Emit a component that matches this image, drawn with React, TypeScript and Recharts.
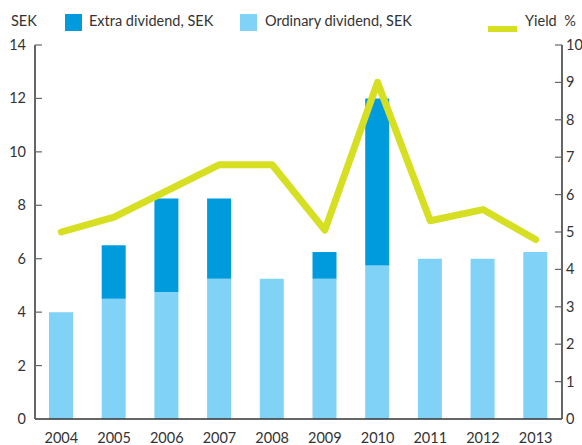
import React from 'react';
import { ComposedChart, Bar, Line, XAxis, YAxis } from 'recharts';

const years = ['2004', '2005', '2006', '2007', '2008', '2009', '2010', '2011', '2012', '2013'];
const ordinary = [4.0, 4.5, 4.75, 5.25, 5.25, 5.25, 5.75, 6.0, 6.0, 6.25];
const extra = [0, 2.0, 3.5, 3.0, 0, 1.0, 6.25, 0, 0, 0];
const yieldPct = [5.0, 5.4, 6.1, 6.8, 6.8, 5.05, 9.0, 5.3, 5.6, 4.8];

const sekTicks = [0, 2, 4, 6, 8, 10, 12, 14];
const yieldTicks = [0, 1, 2, 3, 4, 5, 6, 7, 8, 9, 10];

const LIGHT = '#80d3f6';
const DARK = '#009bdd';
const LIME = '#d6df22';
const TEXT = '#333333';
const FONT = 'Lato, "Open Sans", sans-serif';

const data = years.map((y, i) => ({ year: y, ordinary: ordinary[i], extra: extra[i], yield: yieldPct[i] }));

const LeftTick: React.FC<any> = ({ x, y, payload }) => (
    <g>
        <line x1={x + 8} x2={x + 15} y1={y} y2={y} stroke="#666" strokeWidth={1.2} />
        <text x={x - 1} y={y} dy={5} textAnchor="end" fill={TEXT} fontSize={14.5} fontFamily={FONT}>{payload.value}</text>
    </g>
);

const RightTick: React.FC<any> = ({ x, y, payload }) => (
    <g>
        <line x1={x - 4} x2={x - 11} y1={y} y2={y} stroke="#666" strokeWidth={1.2} />
        <text x={x} y={y} dy={5} textAnchor="start" fill={TEXT} fontSize={14.5} fontFamily={FONT}>{payload.value}</text>
    </g>
);

const legendText: React.CSSProperties = { position: 'absolute', top: 12, fontSize: 14.5, color: TEXT, fontFamily: FONT, whiteSpace: 'nowrap' };

export default function App() {
    return (
        <div style={{ position: 'absolute', left: 0, top: 0, width: 582, height: 445, background: '#fff' }}>
            <div style={{ ...legendText, left: 11 }}>SEK</div>
            <div style={{ position: 'absolute', left: 65, top: 14, width: 17, height: 17, background: DARK }} />
            <div style={{ ...legendText, left: 89 }}>Extra dividend, SEK</div>
            <div style={{ position: 'absolute', left: 240, top: 14, width: 17, height: 17, background: LIGHT }} />
            <div style={{ ...legendText, left: 265 }}>Ordinary dividend, SEK</div>
            <div style={{ position: 'absolute', left: 488, top: 26, width: 29, height: 6, background: LIME }} />
            <div style={{ ...legendText, left: 525 }}>Yield&nbsp;&nbsp;%</div>
            <ComposedChart width={582} height={445} data={data} margin={{ top: 45, right: 0, bottom: 0, left: 0 }} barCategoryGap="27%">
                <XAxis
                    dataKey="year"
                    height={26}
                    tickLine={false}
                    axisLine={{ stroke: TEXT, strokeWidth: 1.5 }}
                    tick={{ fill: TEXT, fontSize: 14.5, fontFamily: FONT }}
                    tickMargin={8}
                    interval={0}
                />
                <YAxis
                    yAxisId="left"
                    orientation="left"
                    width={35}
                    domain={[0, 14]}
                    ticks={sekTicks}
                    tickSize={0}
                    tickMargin={8}
                    tickLine={false}
                    axisLine={{ stroke: TEXT, strokeWidth: 1.5 }}
                    tick={<LeftTick />}
                    interval={0}
                />
                <YAxis
                    yAxisId="right"
                    orientation="right"
                    width={20}
                    domain={[0, 10]}
                    ticks={yieldTicks}
                    tickSize={0}
                    tickMargin={4}
                    tickLine={false}
                    axisLine={{ stroke: TEXT, strokeWidth: 1.5 }}
                    tick={<RightTick />}
                    interval={0}
                />
                <Bar yAxisId="left" dataKey="ordinary" stackId="a" fill={LIGHT} barSize={24} isAnimationActive={false} />
                <Bar yAxisId="left" dataKey="extra" stackId="a" fill={DARK} barSize={24} isAnimationActive={false} />
                <Line
                    yAxisId="right"
                    dataKey="yield"
                    type="linear"
                    stroke={LIME}
                    strokeWidth={7}
                    strokeLinecap="round"
                    strokeLinejoin="round"
                    dot={false}
                    activeDot={false}
                    isAnimationActive={false}
                />
            </ComposedChart>
        </div>
    );
}
